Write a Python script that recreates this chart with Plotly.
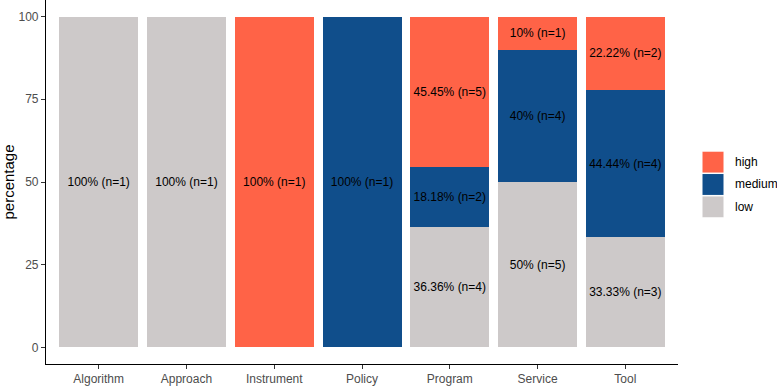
import plotly.graph_objects as go

categories = ["Algorithm", "Approach", "Instrument", "Policy", "Program", "Service", "Tool"]
low_pct = [100, 100, 0, 0, 36.36, 50, 33.33]
low_n = [1, 1, 0, 0, 4, 5, 3]
medium_pct = [0, 0, 0, 100, 18.18, 40, 44.44]
medium_n = [0, 0, 0, 1, 2, 4, 4]
high_pct = [0, 0, 100, 0, 45.45, 10, 22.22]
high_n = [0, 0, 1, 0, 5, 1, 2]
y_ticks = [0, 25, 50, 75, 100]

colors = {"low": "#CDC9C9", "medium": "#104E8B", "high": "#FF6347"}
FONT = "Liberation Sans, Arial, sans-serif"


def fmt(p, n):
    if n == 0:
        return ""
    s = ("%.2f" % p).rstrip("0").rstrip(".")
    return f"{s}% (n={n})"


fig = go.Figure()
for name, pct, ns in [("low", low_pct, low_n), ("medium", medium_pct, medium_n), ("high", high_pct, high_n)]:
    fig.add_trace(go.Bar(
        x=categories, y=pct, name=name, width=0.9,
        marker=dict(color=colors[name], line=dict(width=0)),
        text=[fmt(p, n) for p, n in zip(pct, ns)],
        textposition="inside", insidetextanchor="middle", textangle=0,
        constraintext="none",
        textfont=dict(family=FONT, size=12, color="#000000"),
        showlegend=False, hoverinfo="skip",
    ))

W, H = 777, 386
L, R, T, B = 46, 99, 0, 20
pw, ph = W - L - R, H - T - B

shapes = []
annotations = []
legend_items = [("high", 152), ("medium", 174.5), ("low", 197)]
for name, ytop in legend_items:
    x0 = (702 - L) / pw
    x1 = (724 - L) / pw
    y0 = 1 - (ytop + 22) / ph
    y1 = 1 - ytop / ph
    shapes.append(dict(type="rect", xref="paper", yref="paper", x0=x0, x1=x1, y0=y0, y1=y1,
                       fillcolor=colors[name], line=dict(color="white", width=1)))
    annotations.append(dict(xref="paper", yref="paper", x=(733 - L) / pw, y=1 - (ytop + 11) / ph,
                            text=name, showarrow=False, xanchor="left", yanchor="middle",
                            font=dict(family=FONT, size=12, color="#000000")))

fig.update_layout(
    width=W, height=H, barmode="stack", bargap=0.1,
    margin=dict(l=L, r=R, t=T, b=B, pad=0),
    plot_bgcolor="white", paper_bgcolor="white",
    font=dict(family=FONT, size=12, color="#000000"),
    shapes=shapes, annotations=annotations,
    xaxis=dict(range=[-0.6, 6.6], showline=True, linecolor="black", linewidth=1.1,
               ticks="outside", ticklen=4, tickcolor="#333333", tickwidth=1,
               tickfont=dict(family=FONT, size=12, color="#4D4D4D"), showgrid=False, zeroline=False),
    yaxis=dict(range=[-5, 105], tickvals=y_ticks, showline=True, linecolor="black", linewidth=1.1,
               ticks="outside", ticklen=4, tickcolor="#333333", tickwidth=1,
               tickfont=dict(family=FONT, size=12, color="#4D4D4D"), showgrid=False, zeroline=False,
               title=dict(text="percentage", font=dict(family=FONT, size=15, color="#000000"), standoff=4)),
)

fig.write_html("out.html")
